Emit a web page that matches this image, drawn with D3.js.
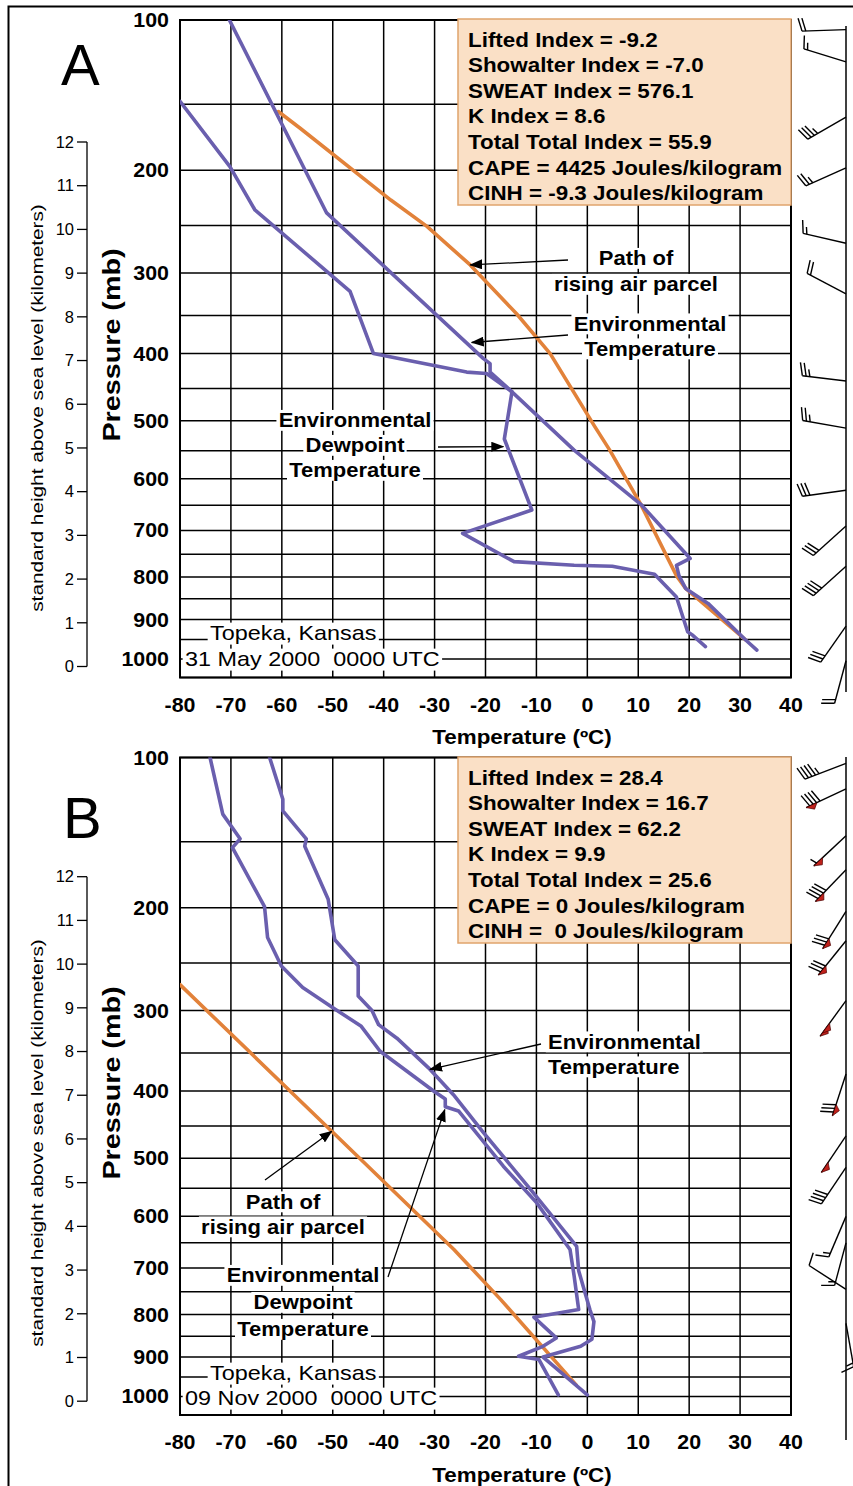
<!DOCTYPE html>
<html>
<head>
<meta charset="utf-8">
<title>Topeka soundings</title>
<script src="https://cdn.jsdelivr.net/npm/d3@7/dist/d3.min.js"></script>
<style>
  body { margin: 0; background: #ffffff; }
  svg text { font-family: "Liberation Sans", Arial, Helvetica, sans-serif; fill: #000; }
</style>
</head>
<body>
<script>
// axes
var pressureGrid = [100, 150, 200, 250, 300, 350, 400, 450, 500, 550, 600, 650, 700, 750, 800, 850, 900, 950, 1000, 1050];
var pressureLabels = [100, 200, 300, 400, 500, 600, 700, 800, 900, 1000];
var tempTicks = [-80, -70, -60, -50, -40, -30, -20, -10, 0, 10, 20, 30, 40];
var kmTicks = [0, 1, 2, 3, 4, 5, 6, 7, 8, 9, 10, 11, 12];

// sounding A: Topeka 31 May 2000 0000 UTC   [pressure mb, temperature C]
var envTempA = [[100, -70.3], [238, -51.2], [407, -20.4], [414, -19.1], [426, -19.1], [455, -14.8], [549, -2.6],
    [648, 10.5], [759, 20.2], [774, 17.5], [797, 18.0], [826, 19.3], [861, 23.7], [951, 31.1], [977, 33.3]];
var dewPointA = [[148, -80], [197, -70.2], [235, -65.3], [321, -46.6], [400, -42.0], [426, -23.7], [428, -19.8],
    [455, -14.8], [530, -16.3], [659, -10.9], [706, -24.5], [766, -14.4], [774, -2.6], [776, 4.9], [794, 13.2],
    [846, 17.5], [930, 19.7], [938, 20.6], [968, 23.2]];
var parcelA = [[155, -60.7], [167, -56.4], [226, -38.6], [251, -31.5], [291, -23.0], [348, -13.9], [400, -7.3],
    [510, 1.5], [549, 4.4], [648, 10.5], [797, 17.5], [826, 19.3], [951, 31.1]];
// wind barbs [pressure mb, direction deg, speed kt]
var windA = [[105, 268, 20], [123, 287, 15], [159, 240, 35], [198, 246, 25], [268, 283, 15], [324, 298, 20],
    [439, 277, 25], [512, 280, 25], [621, 262, 30], [691, 228, 30], [776, 228, 40], [916, 215, 30], [1005, 195, 20]];
var indicesA = ["Lifted Index = -9.2", "Showalter Index = -7.0", "SWEAT Index = 576.1", "K Index = 8.6",
    "Total Total Index = 55.9", "CAPE = 4425 Joules/kilogram", "CINH = -9.3 Joules/kilogram"];

// sounding B: Topeka 09 Nov 2000 0000 UTC
var envTempB = [[100, -62.4], [123, -59.8], [130, -59.8], [148, -55.2], [153, -55.5], [193, -50.9], [228, -49.6],
    [253, -45.0], [284, -45.0], [300, -42.3], [316, -41.0], [332, -37.4], [369, -31.2], [405, -26.3], [460, -20.4],
    [558, -10.6], [657, -2.1], [706, -1.7], [789, 0.5], [816, 1.3], [857, 0.9], [874, -1.3], [900, -8.7], [996, 0.0]];
var dewPointB = [[100, -74.1], [132, -71.6], [148, -68.2], [154, -69.7], [199, -63.4], [226, -62.8], [253, -60.1],
    [275, -55.9], [297, -49.9], [318, -44.4], [348, -40.7], [400, -30.2], [411, -27.9], [422, -27.9], [428, -25.3],
    [513, -16.5], [576, -9.9], [663, -3.4], [716, -2.6], [789, -1.7], [806, -10.5], [854, -6.1], [874, -8.7],
    [898, -13.5], [906, -9.5], [996, -5.7]];
var parcelB = [[272, -80], [458, -50.2], [663, -26.2], [767, -17.0], [970, -2.2]];
var windB = [[103, 249, 45], [117, 245, 90], [146, 227, 55], [170, 224, 90], [203, 212, 80], [229, 219, 80],
    [289, 216, 100], [377, 198, 80], [465, 214, 50], [515, 214, 40], [600, 203, 15], [650, 195, 15],
    [745, 303, 10], [820, 170, 15]];
var indicesB = ["Lifted Index = 28.4", "Showalter Index = 16.7", "SWEAT Index = 62.2", "K Index = 9.9",
    "Total Total Index = 25.6", "CAPE = 0 Joules/kilogram", "CINH =  0 Joules/kilogram"];

var PURPLE = "#6a5fae";
var ORANGE = "#e2823a";
var SX = 1.12; // the original lettering runs a bit wider than Arial

var svg = d3.select("body").append("svg")
    .attr("width", 853)
    .attr("height", 1486)
    .style("display", "block");
svg.append("rect").attr("width", 853).attr("height", 1486).attr("fill", "#fff");
svg.append("path")
    .attr("d", "M8.5,1486 V6.5 H853")
    .attr("fill", "none")
    .attr("stroke", "#000")
    .attr("stroke-width", 2);

var defs = svg.append("defs");
defs.append("marker")
    .attr("id", "arrow")
    .attr("viewBox", "0 0 13 10")
    .attr("refX", 12)
    .attr("refY", 5)
    .attr("markerWidth", 13)
    .attr("markerHeight", 10)
    .attr("markerUnits", "userSpaceOnUse")
    .attr("orient", "auto")
    .append("path")
    .attr("d", "M0,0 L13,5 L0,10 Z")
    .attr("fill", "#000");

var x = d3.scaleLinear().domain([-80, 40]).range([180, 791]);

function txt(g, s, px, py, o) {
    o = o || {};
    return g.append("text")
        .attr("transform", "translate(" + px + "," + py + ")" + (o.rot ? " rotate(" + o.rot + ")" : "") +
            " scale(" + (o.sx || 1) + ",1)")
        .attr("dy", o.dy !== undefined ? o.dy : "0.35em")
        .attr("font-size", o.size || 20)
        .attr("font-weight", o.bold ? "bold" : "normal")
        .attr("text-anchor", o.anchor || "start")
        .style("white-space", "pre")
        .text(s);
}

// text with a white patch behind it, so the grid is cut out
function boxed(bg, fg, s, px, py, o) {
    var t = txt(fg, s, px, py, o);
    var b = t.node().getBBox();
    bg.append("rect")
        .attr("transform", t.attr("transform"))
        .attr("x", b.x - 2)
        .attr("y", b.y + 1)
        .attr("width", b.width + 4)
        .attr("height", b.height - 1)
        .attr("fill", "#fff");
    return t;
}

function drawBarb(g, x0, y0, dir, spd) {
    var rad = dir * Math.PI / 180;
    var sx = Math.sin(rad), sy = -Math.cos(rad);
    var fx = -sy, fy = sx;
    var L = 44;
    var tx = x0 + sx * L, ty = y0 + sy * L;
    g.append("line").attr("x1", x0).attr("y1", y0).attr("x2", tx).attr("y2", ty)
        .attr("stroke", "#000").attr("stroke-width", 1.4);
    var n50 = Math.floor(spd / 50);
    var rest = spd - n50 * 50;
    var n10 = Math.floor(rest / 10);
    var n5 = (rest % 10) >= 5 ? 1 : 0;
    var pos = 0;
    for (var i = 0; i < n50; i++) {
        var bx = tx - sx * pos, by = ty - sy * pos;
        g.append("path")
            .attr("d", "M" + bx + "," + by + " L" + (bx - sx * 12) + "," + (by - sy * 12) +
                " L" + (bx - sx * 7 - fx * 5) + "," + (by - sy * 7 - fy * 5) + " Z")
            .attr("fill", "#c0211b").attr("stroke", "#4a0000").attr("stroke-width", 0.7);
        pos += 4;
    }
    for (var j = 0; j < n10; j++) {
        var cx = tx - sx * pos, cy = ty - sy * pos;
        g.append("line").attr("x1", cx).attr("y1", cy)
            .attr("x2", cx + fx * 13 + sx * 3.5).attr("y2", cy + fy * 13 + sy * 3.5)
            .attr("stroke", "#000").attr("stroke-width", 1.4);
        pos += 3.8;
    }
    if (n5) {
        if (n10 === 0 && n50 === 0) pos += 3.8;
        var hx = tx - sx * pos, hy = ty - sy * pos;
        g.append("line").attr("x1", hx).attr("y1", hy)
            .attr("x2", hx + fx * 7 + sx * 2).attr("y2", hy + fy * 7 + sy * 2)
            .attr("stroke", "#000").attr("stroke-width", 1.4);
    }
}

function drawPanel(cfg) {
    var y = d3.scalePow().exponent(0.286).domain([100, 1050]).range([cfg.top, cfg.top + 657.5]);
    var km = d3.scaleLinear().domain([0, 12]).range([cfg.km0, cfg.km12]);
    var g = svg.append("g");
    var clipId = "clip" + cfg.letter;

    g.append("clipPath").attr("id", clipId).append("rect")
        .attr("x", x(-80)).attr("y", y(100))
        .attr("width", x(40) - x(-80)).attr("height", y(1050) - y(100));

    // grid
    g.append("g").selectAll("line").data(tempTicks).enter().append("line")
        .attr("x1", function (d) { return x(d); })
        .attr("x2", function (d) { return x(d); })
        .attr("y1", y(100))
        .attr("y2", y(1050))
        .attr("stroke", "#000")
        .attr("stroke-width", 1.5);
    g.append("g").selectAll("line").data(pressureGrid).enter().append("line")
        .attr("x1", x(-80))
        .attr("x2", x(40))
        .attr("y1", function (d) { return y(d); })
        .attr("y2", function (d) { return y(d); })
        .attr("stroke", "#000")
        .attr("stroke-width", 1.5);
    g.append("rect")
        .attr("x", x(-80)).attr("y", y(100))
        .attr("width", x(40) - x(-80)).attr("height", y(1050) - y(100))
        .attr("fill", "none").attr("stroke", "#000").attr("stroke-width", 2);

    // pressure and temperature labels
    pressureLabels.forEach(function (p) {
        txt(g, String(p), 169, y(p), { size: 20, bold: true, anchor: "end", sx: 1.07 });
    });
    tempTicks.forEach(function (t) {
        txt(g, String(t), x(t), cfg.xlab, { size: 20, bold: true, anchor: "middle", sx: 1.07 });
    });
    txt(g, "Temperature (\u00baC)", 522, cfg.xtitle, { size: 20, bold: true, anchor: "middle", sx: 1.12 });
    txt(g, "Pressure (mb)", 112, cfg.ptitle, { size: 23, bold: true, anchor: "middle", sx: 1.25, rot: -90 });

    // height scale
    g.append("line").attr("x1", 87).attr("x2", 87).attr("y1", km(0)).attr("y2", km(12))
        .attr("stroke", "#000").attr("stroke-width", 1.3);
    g.append("g").selectAll("line").data(kmTicks).enter().append("line")
        .attr("x1", 77).attr("x2", 87)
        .attr("y1", function (d) { return km(d); })
        .attr("y2", function (d) { return km(d); })
        .attr("stroke", "#000").attr("stroke-width", 1.3);
    kmTicks.forEach(function (k) {
        txt(g, String(k), 74, km(k), { size: 16.5, anchor: "end" });
    });
    txt(g, "standard height above sea level (kilometers)", 37, cfg.htitle,
        { size: 16.5, anchor: "middle", sx: 1.26, rot: -90 });

    txt(g, cfg.letter, cfg.letterX, cfg.letterY, { size: 58, dy: 0 });

    // label patches and labels
    var bg = g.append("g");
    var fg = g.append("g");
    cfg.labels.forEach(function (lab) {
        lab.lines.forEach(function (s, i) {
            var px = Array.isArray(lab.x) ? lab.x[i] : lab.x;
            boxed(bg, fg, s, px, lab.y + i * lab.step,
                { size: lab.size || 20, bold: lab.bold !== false, anchor: lab.anchor || "middle", sx: lab.sx || 1.1 });
        });
    });

    // profiles
    var line = d3.line()
        .x(function (d) { return x(d[1]); })
        .y(function (d) { return y(d[0]); });
    var lines = g.append("g").attr("clip-path", "url(#" + clipId + ")");
    [[cfg.parcel, ORANGE], [cfg.dew, PURPLE], [cfg.temp, PURPLE]].forEach(function (s) {
        lines.append("path")
            .attr("d", line(s[0]))
            .attr("fill", "none")
            .attr("stroke", s[1])
            .attr("stroke-width", 3.6)
            .attr("stroke-linejoin", "round")
            .attr("stroke-linecap", "round");
    });

    // arrows from labels to the curves
    cfg.arrows.forEach(function (a) {
        g.append("line")
            .attr("x1", a.from[0]).attr("y1", a.from[1])
            .attr("x2", x(a.to[1])).attr("y2", y(a.to[0]))
            .attr("stroke", "#000").attr("stroke-width", 1.3)
            .attr("marker-end", "url(#arrow)");
    });

    // stability indices
    g.append("rect")
        .attr("x", 458).attr("y", cfg.boxTop)
        .attr("width", 333).attr("height", cfg.boxH)
        .attr("fill", "#fae0c6").attr("stroke", "#e0a46c").attr("stroke-width", 1.5);
    cfg.indices.forEach(function (s, i) {
        txt(g, s, 468, cfg.boxTop + 20.5 + i * 25.6, { size: 20, bold: true, sx: SX });
    });

    // winds
    g.append("line").attr("x1", 846).attr("x2", 846).attr("y1", cfg.barbTop).attr("y2", cfg.barbBot)
        .attr("stroke", "#000").attr("stroke-width", 1.5);
    cfg.wind.forEach(function (w) {
        drawBarb(g, 846, y(w[0]), w[1], w[2]);
    });
}

drawPanel({
    letter: "A", letterX: 61, letterY: 85, top: 20, km0: 666.5, km12: 142,
    xlab: 705, xtitle: 737, ptitle: 345, htitle: 408,
    boxTop: 19, boxH: 186, barbTop: 26, barbBot: 692,
    temp: envTempA, dew: dewPointA, parcel: parcelA, wind: windA, indices: indicesA,
    labels: [
        { lines: ["Path of", "rising air parcel"], x: 636, y: 258, step: 26 },
        { lines: ["Environmental", "Temperature"], x: 650, y: 323.5, step: 25 },
        { lines: ["Environmental", "Dewpoint", "Temperature"], x: 355, y: 420, step: 25 },
        { lines: ["Topeka, Kansas", "31 May 2000  0000 UTC"], x: [210, 185], y: 633, step: 26,
            anchor: "start", bold: false, size: 20, sx: 1.17 }
    ],
    arrows: [
        { from: [568, 260], to: [291, -23.0] },
        { from: [568, 335], to: [385, -22.7] },
        { from: [438, 447], to: [543, -16.5] }
    ]
});

drawPanel({
    letter: "B", letterX: 63, letterY: 838, top: 757.5, km0: 1401.2, km12: 876.7,
    xlab: 1441.5, xtitle: 1475, ptitle: 1083, htitle: 1143,
    boxTop: 757, boxH: 186, barbTop: 757, barbBot: 1440,
    temp: envTempB, dew: dewPointB, parcel: parcelB, wind: windB, indices: indicesB,
    labels: [
        { lines: ["Environmental", "Temperature"], x: 548, y: 1041.5, step: 25, anchor: "start" },
        { lines: ["Path of", "rising air parcel"], x: 283, y: 1201.5, step: 25 },
        { lines: ["Environmental", "Dewpoint", "Temperature"], x: 303, y: 1275, step: 27 },
        { lines: ["Topeka, Kansas", "09 Nov 2000  0000 UTC"], x: [210, 185], y: 1373, step: 25,
            anchor: "start", bold: false, size: 20, sx: 1.17 }
    ],
    arrows: [
        { from: [541, 1044], to: [371, -30.9] },
        { from: [265, 1180], to: [458, -50.2] },
        { from: [388, 1277], to: [426, -28.0] }
    ]
});
</script>
</body>
</html>
